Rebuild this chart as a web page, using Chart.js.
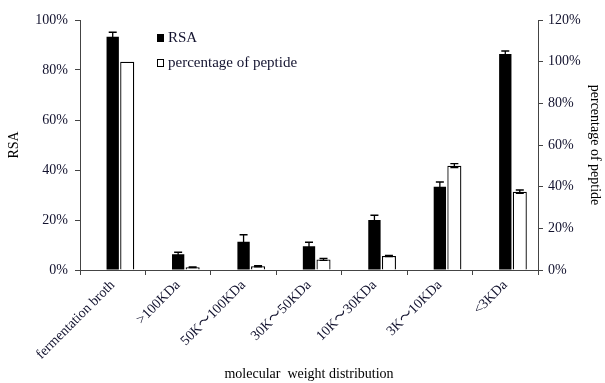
<!DOCTYPE html>
<html>
<head>
<meta charset="utf-8">
<script src="https://cdn.jsdelivr.net/npm/chart.js@4/dist/chart.umd.min.js"></script>
<style>
  html,body{margin:0;padding:0;background:#fff;}
  #wrap{width:605px;height:383px;}
</style>
</head>
<body>
<div id="wrap"><canvas id="c" width="605" height="383"></canvas></div>
<script>
const categories = ["fermentation broth", ">100KDa", "50K～100KDa", "30K～50KDa", "10K～30KDa", "3K～10KDa", "<3KDa"];
const rsaValues = [93.3, 6.3, 11.3, 9.5, 20.0, 33.3, 86.4];
const rsaErrors = [1.8, 0.8, 2.8, 1.6, 1.9, 1.9, 1.2];
const peptideValues = [100, 1.3, 1.8, 5.1, 6.7, 50.1, 37.6];
const peptideErrors = [0, 0.2, 0.3, 0.5, 0.3, 1.0, 0.8];
const leftTicks = [0, 20, 40, 60, 80, 100];
const rightTicks = [0, 20, 40, 60, 80, 100, 120];

const FONT = "'Liberation Serif', 'Times New Roman', serif";
const XFONT = "'Liberation Serif', 'Noto Sans CJK SC', serif";
const TXT = '#12122e';

const errorBars = {
  id: 'errorBars',
  afterDatasetsDraw(chart) {
    const ctx = chart.ctx;
    chart.data.datasets.forEach((ds, i) => {
      if (!ds.errors) return;
      const meta = chart.getDatasetMeta(i);
      const ys = chart.scales[ds.yAxisID];
      meta.data.forEach((el, j) => {
        const v = ds.data[j], e = ds.errors[j];
        if (v == null || !e) return;
        const yt = ys.getPixelForValue(v + e);
        const yb = ys.getPixelForValue(v - e);
        const x = el.x;
        ctx.save();
        ctx.strokeStyle = '#000';
        ctx.lineWidth = 1.3;
        ctx.beginPath();
        ctx.moveTo(x, yt); ctx.lineTo(x, yb);
        ctx.moveTo(x - 4, yt); ctx.lineTo(x + 4, yt);
        ctx.moveTo(x - 4, yb); ctx.lineTo(x + 4, yb);
        ctx.stroke();
        ctx.restore();
      });
    });
  }
};

const customLegend = {
  id: 'customLegend',
  afterDraw(chart) {
    const ctx = chart.ctx;
    const items = chart.data.datasets.filter(d => d.showInLegend);
    const x0 = 157, y0 = 38, gap = 25;
    ctx.save();
    items.forEach((d, k) => {
      const y = y0 + k * gap;
      ctx.fillStyle = d.backgroundColor;
      ctx.fillRect(x0, y - 4, 7, 8);
      ctx.strokeStyle = '#000';
      ctx.lineWidth = 1;
      ctx.strokeRect(x0 + 0.5, y - 3.5, 6, 7);
      ctx.fillStyle = TXT;
      ctx.font = "15px " + FONT;
      ctx.textBaseline = 'middle';
      ctx.textAlign = 'left';
      ctx.fillText(d.label, x0 + 11, y);
    });
    ctx.restore();
  }
};

new Chart(document.getElementById('c'), {
  type: 'bar',
  data: {
    labels: categories,
    datasets: [
      { label: '', data: categories.map(() => null), yAxisID: 'y', backgroundColor: 'rgba(0,0,0,0)', showInLegend: false },
      { label: 'RSA', data: rsaValues, errors: rsaErrors, yAxisID: 'y', backgroundColor: '#000', borderColor: '#000', borderWidth: 0, barPercentage: 0.85, showInLegend: true },
      { label: 'percentage of peptide', data: peptideValues, errors: peptideErrors, yAxisID: 'y1', backgroundColor: '#fff', borderColor: '#000', borderWidth: 1.3, barPercentage: 0.97, showInLegend: true }
    ]
  },
  options: {
    responsive: false,
    animation: false,
    categoryPercentage: 0.665,
    layout: { padding: { top: 20, left: 0, right: 0, bottom: 0 } },
    plugins: { legend: { display: false }, tooltip: { enabled: false } },
    scales: {
      x: {
        grid: { display: true, drawOnChartArea: false, offset: true, tickLength: 5, color: '#444' },
        border: { display: true, color: '#444' },
        ticks: { minRotation: 45, maxRotation: 45, autoSkip: false, color: TXT, font: { family: XFONT, size: 14 }, padding: 2 },
        title: { display: true, text: 'molecular  weight distribution', color: '#000', font: { family: FONT, size: 14 }, padding: { top: 0, bottom: 0 } },
        afterFit(s) { s.height = 113; }
      },
      y: {
        position: 'left', min: 0, max: 100,
        afterBuildTicks(s) { s.ticks = leftTicks.map(v => ({ value: v })); },
        grid: { display: true, drawOnChartArea: false, tickLength: 5, color: '#444' },
        border: { display: true, color: '#444' },
        ticks: { color: TXT, font: { family: FONT, size: 14 }, padding: 7, callback: v => v + '%' },
        title: { display: true, text: 'RSA', color: '#000', font: { family: FONT, size: 14 }, padding: { top: 6, bottom: 0 } },
        afterFit(s) { s.width = 80; }
      },
      y1: {
        position: 'right', min: 0, max: 120,
        afterBuildTicks(s) { s.ticks = rightTicks.map(v => ({ value: v })); },
        grid: { display: true, drawOnChartArea: false, tickLength: 5, color: '#444' },
        border: { display: true, color: '#444' },
        ticks: { color: TXT, font: { family: FONT, size: 14 }, padding: 5, callback: v => v + '%' },
        title: { display: true, text: 'percentage of peptide', color: '#000', font: { family: FONT, size: 14 }, padding: { top: 2, bottom: 0 } },
        afterFit(s) { s.width = 67; }
      }
    }
  },
  plugins: [errorBars, customLegend]
});
</script>
</body>
</html>
